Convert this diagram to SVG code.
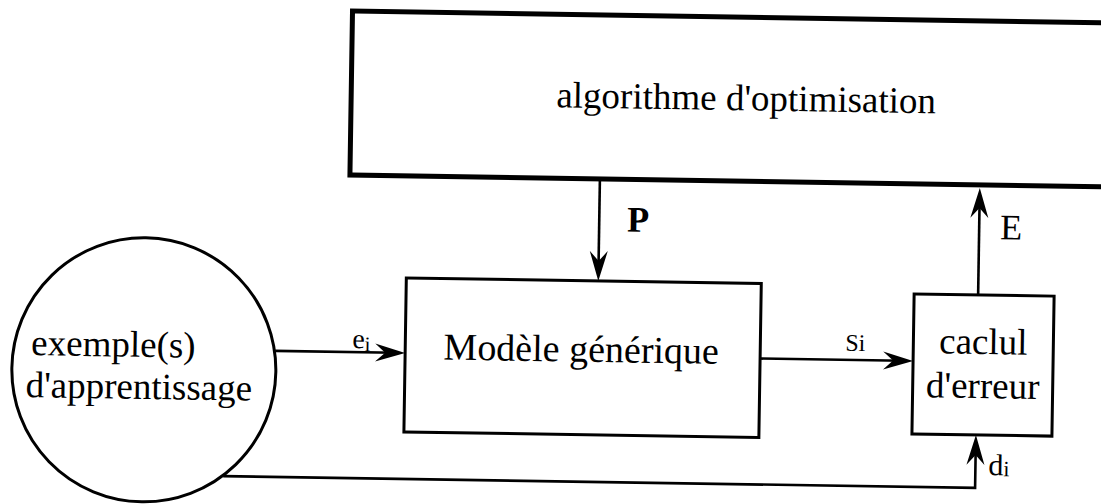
<svg xmlns="http://www.w3.org/2000/svg" width="1101" height="504" viewBox="0 0 1101 504">
<style>
text{font-family:"Liberation Serif","Times New Roman",serif;fill:#000}
.box{fill:none;stroke:#000;stroke-width:3}
.big{fill:none;stroke:#000;stroke-width:5}
.ln{fill:none;stroke:#000;stroke-width:2.6}
</style>
<defs>
<marker id="ah" markerUnits="userSpaceOnUse" markerWidth="32" markerHeight="22" refX="20" refY="11" orient="auto">
<path d="M0,2 L30,11 L0,20 L10,11 Z" fill="#000"/>
</marker>
</defs>
<rect width="1101" height="504" fill="#fff"/>
<g transform="rotate(0.9 600 300)">
<g id="optim">
<rect class="big" x="348" y="15" width="820" height="164"/>
<text x="743" y="108" font-size="37" text-anchor="middle">algorithme d'optimisation</text>
</g>
<g id="modele">
<rect class="box" x="406" y="281" width="355" height="154"/>
<text x="582" y="362" font-size="38" text-anchor="middle">Modèle générique</text>
</g>
<g id="exemples">
<circle class="box" cx="145" cy="377" r="132" stroke-width="2.6"/>
<text x="32" y="364" font-size="37">exemple(s)</text>
<text x="27" y="406" font-size="37">d'apprentissage</text>
</g>
<g id="erreur">
<rect class="box" x="914" y="289" width="140" height="140"/>
<text x="984" y="348" font-size="37" text-anchor="middle">caclul</text>
<text x="984" y="392" font-size="37" text-anchor="middle">d'erreur</text>
</g>
<g id="connectors">
<line class="ln" x1="598" y1="179" x2="598" y2="271" marker-end="url(#ah)"/>
<line class="ln" x1="978" y1="289" x2="978" y2="192" marker-end="url(#ah)"/>
<line class="ln" x1="276" y1="356" x2="396" y2="356" marker-end="url(#ah)"/>
<line class="ln" x1="761" y1="356" x2="904" y2="356" marker-end="url(#ah)"/>
<polyline class="ln" points="226,482 978,482 978,439" marker-end="url(#ah)"/>
</g>
<g id="labels">
<text x="626" y="231" font-size="36" font-weight="bold">P</text>
<text x="999" y="233" font-size="36">E</text>
<text x="353" y="352" font-size="28">e<tspan font-size="21" dy="3">i</tspan></text>
<text x="846" y="347" font-size="24">Si</text>
<text x="991" y="469" font-size="30">d<tspan font-size="22" dy="1">i</tspan></text>
</g>
</g>
</svg>
